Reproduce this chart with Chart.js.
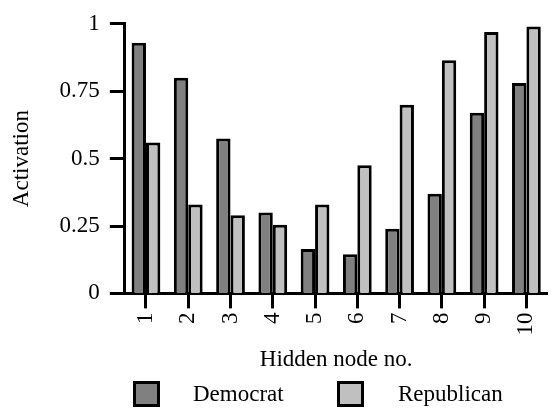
<!DOCTYPE html>
<html>
<head>
<meta charset="utf-8">
<script src="https://cdn.jsdelivr.net/npm/chart.js@4/dist/chart.umd.min.js"></script>
<style>
  html, body { margin: 0; padding: 0; background: #fff; }
</style>
</head>
<body>
<canvas id="myChart" width="558" height="414"></canvas>
<script>
var nodeLabels = ["1", "2", "3", "4", "5", "6", "7", "8", "9", "10"];
var democrat = [0.93, 0.80, 0.575, 0.30, 0.165, 0.145, 0.24, 0.37, 0.67, 0.78];
var republican = [0.56, 0.33, 0.29, 0.255, 0.33, 0.475, 0.70, 0.865, 0.97, 0.99];
var yTickValues = [0, 0.25, 0.5, 0.75, 1];
var yTickLabels = ["0", "0.25", "0.5", "0.75", "1"];

var fontFamily = "'Liberation Serif'";
Chart.defaults.font.family = fontFamily;
Chart.defaults.font.size = 23;
Chart.defaults.color = "#000";

// legend below the axis title, boxes set well apart from their text
var bottomLegend = {
  id: "bottomLegend",
  afterDraw: function (chart) {
    var ctx = chart.ctx;
    var items = chart.data.datasets;
    var boxX = [133, 337];
    var textX = [193, 398];
    var y = 381;
    ctx.save();
    for (var i = 0; i < items.length; i++) {
      ctx.fillStyle = items[i].backgroundColor;
      ctx.fillRect(boxX[i], y, 27, 26);
      ctx.lineWidth = 3;
      ctx.strokeStyle = "#000";
      ctx.strokeRect(boxX[i] + 1.5, y + 1.5, 24, 23);
      ctx.fillStyle = "#000";
      ctx.font = "23px " + fontFamily;
      ctx.textBaseline = "middle";
      ctx.textAlign = "left";
      ctx.fillText(items[i].label, textX[i], y + 14);
    }
    ctx.restore();
  }
};

var ctx = document.getElementById("myChart").getContext("2d");
var myChart = new Chart(ctx, {
  type: "bar",
  data: {
    labels: nodeLabels,
    datasets: [
      {
        label: "Democrat",
        data: democrat,
        backgroundColor: "#808080",
        borderColor: "#000",
        borderWidth: 3
      },
      {
        label: "Republican",
        data: republican,
        backgroundColor: "#c0c0c0",
        borderColor: "#000",
        borderWidth: 3
      }
    ]
  },
  options: {
    responsive: false,
    animation: false,
    layout: { padding: { left: 8, top: 1, right: -6, bottom: 40 } },
    datasets: {
      bar: { categoryPercentage: 0.68, barPercentage: 1.0 }
    },
    plugins: {
      legend: { display: false },
      tooltip: { enabled: false }
    },
    scales: {
      x: {
        grid: {
          display: true,
          drawOnChartArea: false,
          offset: false,
          tickLength: 15,
          tickWidth: 3,
          tickColor: "#000"
        },
        border: { display: true, color: "#000", width: 3 },
        ticks: {
          minRotation: 90,
          maxRotation: 90,
          padding: 4
        },
        title: {
          display: true,
          text: "Hidden node no.",
          padding: { top: 7, bottom: 0 }
        }
      },
      y: {
        min: 0,
        max: 1,
        afterBuildTicks: function (axis) {
          axis.ticks = yTickValues.map(function (v) { return { value: v }; });
        },
        grid: {
          display: true,
          drawOnChartArea: false,
          tickLength: 15,
          tickWidth: 3,
          tickColor: "#000"
        },
        border: { display: true, color: "#000", width: 3 },
        ticks: {
          padding: 10,
          callback: function (value, index) { return yTickLabels[index]; }
        },
        title: {
          display: true,
          text: "Activation",
          padding: { top: 0, bottom: 14 }
        }
      }
    }
  },
  plugins: [bottomLegend]
});
</script>
</body>
</html>
